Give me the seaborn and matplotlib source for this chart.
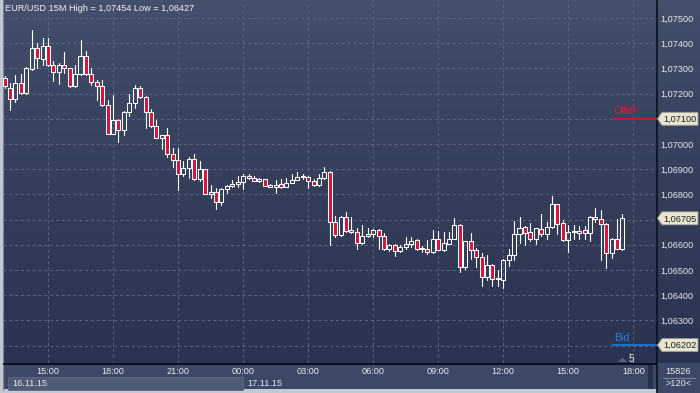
import numpy as np
import pandas as pd
import matplotlib
matplotlib.use("Agg")
import matplotlib.pyplot as plt
from matplotlib.colors import LinearSegmentedColormap
from matplotlib.patches import Rectangle, Polygon
from matplotlib.ticker import FixedLocator, FixedFormatter
import seaborn as sns

# ---------------- data (EUR/USD 15M candles, 16.11.15 13:00 -> 17.11.15 17:30) -------------
opens = [1.07262, 1.07222, 1.07179, 1.07242, 1.07203, 1.07299, 1.07380, 1.07337, 1.07389, 1.07312,
         1.07286, 1.07312, 1.07301, 1.07229, 1.07278, 1.07350, 1.07278, 1.07246, 1.07232, 1.07154,
         1.07041, 1.07097, 1.07054, 1.07128, 1.07163, 1.07222, 1.07187, 1.07128, 1.07071, 1.07025,
         1.07035, 1.06962, 1.06938, 1.06882, 1.06905, 1.06942, 1.06862, 1.06899, 1.06802, 1.06810,
         1.06769, 1.06820, 1.06835, 1.06842, 1.06850, 1.06875, 1.06866, 1.06855, 1.06862, 1.06838,
         1.06830, 1.06843, 1.06830, 1.06846, 1.06859, 1.06870, 1.06870, 1.06855, 1.06838, 1.06866,
         1.06890, 1.06692, 1.06638, 1.06711, 1.06657, 1.06652, 1.06609, 1.06633, 1.06644, 1.06657,
         1.06635, 1.06583, 1.06598, 1.06576, 1.06593, 1.06605, 1.06618, 1.06585, 1.06585, 1.06570,
         1.06625, 1.06580, 1.06605, 1.06625, 1.06680, 1.06511, 1.06614, 1.06580, 1.06553, 1.06473,
         1.06519, 1.06466, 1.06461, 1.06539, 1.06561, 1.06642, 1.06672, 1.06651, 1.06622, 1.06664,
         1.06644, 1.06672, 1.06760, 1.06685, 1.06619, 1.06651, 1.06648, 1.06658, 1.06648, 1.06712,
         1.06701, 1.06684, 1.06569, 1.06622, 1.06582]
highs = [1.07268, 1.07242, 1.07275, 1.07278, 1.07305, 1.07454, 1.07400, 1.07420, 1.07420, 1.07328,
         1.07321, 1.07367, 1.07303, 1.07314, 1.07413, 1.07370, 1.07301, 1.07255, 1.07255, 1.07176,
         1.07196, 1.07100, 1.07130, 1.07200, 1.07236, 1.07232, 1.07190, 1.07139, 1.07097, 1.07036,
         1.07062, 1.06985, 1.06985, 1.06932, 1.06949, 1.06962, 1.06934, 1.06901, 1.06839, 1.06824,
         1.06826, 1.06837, 1.06859, 1.06875, 1.06879, 1.06882, 1.06872, 1.06866, 1.06863, 1.06840,
         1.06859, 1.06863, 1.06866, 1.06879, 1.06888, 1.06879, 1.06872, 1.06862, 1.06879, 1.06909,
         1.06891, 1.06716, 1.06713, 1.06731, 1.06711, 1.06665, 1.06677, 1.06665, 1.06664, 1.06661,
         1.06646, 1.06602, 1.06602, 1.06598, 1.06629, 1.06629, 1.06622, 1.06596, 1.06618, 1.06657,
         1.06655, 1.06651, 1.06651, 1.06707, 1.06684, 1.06616, 1.06646, 1.06589, 1.06567, 1.06559,
         1.06523, 1.06501, 1.06543, 1.06585, 1.06694, 1.06711, 1.06674, 1.06685, 1.06668, 1.06721,
         1.06691, 1.06793, 1.06762, 1.06698, 1.06677, 1.06677, 1.06675, 1.06675, 1.06714, 1.06747,
         1.06737, 1.06686, 1.06627, 1.06701, 1.06721]
lows = [1.07222, 1.07134, 1.07166, 1.07200, 1.07200, 1.07295, 1.07301, 1.07314, 1.07308, 1.07249,
        1.07238, 1.07282, 1.07225, 1.07226, 1.07275, 1.07275, 1.07236, 1.07176, 1.07150, 1.07038,
        1.07038, 1.07008, 1.07034, 1.07110, 1.07141, 1.07184, 1.07064, 1.07068, 1.07022, 1.06979,
        1.06950, 1.06909, 1.06816, 1.06872, 1.06866, 1.06859, 1.06855, 1.06800, 1.06787, 1.06743,
        1.06756, 1.06806, 1.06830, 1.06830, 1.06822, 1.06862, 1.06853, 1.06849, 1.06833, 1.06828,
        1.06806, 1.06825, 1.06829, 1.06844, 1.06857, 1.06862, 1.06825, 1.06835, 1.06835, 1.06863,
        1.06599, 1.06631, 1.06635, 1.06651, 1.06648, 1.06585, 1.06602, 1.06629, 1.06629, 1.06585,
        1.06580, 1.06576, 1.06557, 1.06570, 1.06583, 1.06593, 1.06580, 1.06572, 1.06563, 1.06567,
        1.06579, 1.06576, 1.06602, 1.06622, 1.06494, 1.06504, 1.06543, 1.06511, 1.06435, 1.06460,
        1.06435, 1.06435, 1.06427, 1.06514, 1.06540, 1.06606, 1.06600, 1.06615, 1.06602, 1.06635,
        1.06622, 1.06668, 1.06642, 1.06615, 1.06572, 1.06622, 1.06622, 1.06625, 1.06615, 1.06691,
        1.06540, 1.06507, 1.06547, 1.06582, 1.06580]
closes = [1.07229, 1.07179, 1.07242, 1.07203, 1.07301, 1.07380, 1.07341, 1.07389, 1.07312, 1.07286,
          1.07312, 1.07301, 1.07229, 1.07278, 1.07350, 1.07278, 1.07246, 1.07232, 1.07154, 1.07041,
          1.07097, 1.07054, 1.07128, 1.07163, 1.07222, 1.07187, 1.07128, 1.07071, 1.07025, 1.07035,
          1.06960, 1.06936, 1.06882, 1.06905, 1.06942, 1.06862, 1.06899, 1.06802, 1.06810, 1.06771,
          1.06820, 1.06835, 1.06843, 1.06850, 1.06875, 1.06866, 1.06855, 1.06863, 1.06835, 1.06830,
          1.06839, 1.06830, 1.06846, 1.06859, 1.06870, 1.06871, 1.06854, 1.06838, 1.06866, 1.06890,
          1.06692, 1.06638, 1.06711, 1.06655, 1.06652, 1.06609, 1.06633, 1.06644, 1.06657, 1.06635,
          1.06583, 1.06598, 1.06576, 1.06593, 1.06605, 1.06616, 1.06585, 1.06586, 1.06570, 1.06625,
          1.06580, 1.06606, 1.06625, 1.06680, 1.06511, 1.06614, 1.06580, 1.06553, 1.06474, 1.06519,
          1.06466, 1.06465, 1.06539, 1.06561, 1.06642, 1.06668, 1.06648, 1.06622, 1.06665, 1.06644,
          1.06672, 1.06760, 1.06684, 1.06619, 1.06651, 1.06652, 1.06655, 1.06648, 1.06712, 1.06701,
          1.06684, 1.06569, 1.06625, 1.06585, 1.06705]

time_tick_idx = [8, 20, 32, 44, 56, 68, 80, 92, 104, 116]
time_labels = ["15:00", "18:00", "21:00", "00:00", "03:00", "06:00", "09:00", "12:00", "15:00", "18:00"]
date_labels = ["16.11.15", "17.11.15"]
date_start_idx = [-1, 44]
price_ticks = [1.062, 1.063, 1.064, 1.065, 1.066, 1.067, 1.068, 1.069, 1.070, 1.071,
               1.072, 1.073, 1.074, 1.075]
hidden_tick_labels = [1.062, 1.067, 1.071]
title = "EUR/USD 15M High = 1,07454 Low = 1,06427"
offer_price = 1.07100
bid_price = 1.06202
last_price = 1.06705
bar_count = "15826"
zoom_label = ">120<"

# ---------------- style ----------------
sns.set_theme(style="dark")
plt.rcParams["font.family"] = ["Liberation Sans", "DejaVu Sans"]
FS = 6.6
TXT = "#e4e8f0"
RED = "#d81438"

W, H = 700, 393
fig = plt.figure(figsize=(7, 3.93), dpi=100)
fig.patch.set_facecolor("#c2c8d2")

# background axes in pixel coordinates
bg = fig.add_axes([0, 0, 1, 1])
bg.set_zorder(0)
bg.axis("off")
grad = np.linspace(0, 1, 256)[:, None]
cmap = LinearSegmentedColormap.from_list(
    "bg", [(0.0, "#45516c"), (0.13, "#3e4a66"), (0.5, "#353f5c"), (1.0, "#2a3451")])
bg.imshow(grad, cmap=cmap, extent=[3, 700, 363, 0], aspect="auto", interpolation="bilinear")
bg.add_patch(Rectangle((3, 363), 654, 26, fc="#3c4865", ec="none"))
bg.add_patch(Rectangle((657, 363), 43, 30, fc="#3c4865", ec="none"))
bg.add_patch(Rectangle((648, 364), 5, 25, fc="#2a3247", ec="none"))
bg.plot([2.5, 2.5], [0, 390], color="#7d8698", lw=0.8)
bg.plot([3, 657], [363.5, 363.5], color="#0b1020", lw=1.4, solid_capstyle="butt")
bg.plot([657, 657], [0, 393], color="#0b1020", lw=1.2, solid_capstyle="butt")
bg.set_xlim(0, W)
bg.set_ylim(H, 0)

# main price axes
ax = fig.add_axes([3 / W, 30 / H, 654 / W, 363 / H])
ax.set_zorder(2)
ax.patch.set_alpha(0)

o = np.array(opens); h = np.array(highs); l = np.array(lows); c = np.array(closes)
n = len(o)
idx = np.arange(n)
top = np.maximum(o, c)
bot = np.minimum(o, c)

rows = []
for i in range(n):
    rows += [(i, h[i], 2 * i), (i, top[i], 2 * i), (i, bot[i], 2 * i + 1), (i, l[i], 2 * i + 1)]
wick_df = pd.DataFrame(rows, columns=["x", "y", "uid"])
sns.lineplot(data=wick_df, x="x", y="y", units="uid", estimator=None, sort=False,
             color="white", lw=0.8, ax=ax, legend=False)

face = [RED if cc < oo else "none" for oo, cc in zip(o, c)]
ax.bar(idx, np.maximum(top - bot, 0.00002), bottom=bot, width=0.74, color=face,
       edgecolor="white", linewidth=0.75, zorder=3)

xmin, xmax = -0.30, 120.37
ax.set_xlim(xmin, xmax)
ax.set_ylim(1.061310, 1.075714)

# offer / bid lines
ax.plot([112.2, xmax], [offer_price, offer_price], color="#d0142c", lw=1.4, solid_capstyle="butt", zorder=4)
ax.plot([112.0, xmax], [bid_price, bid_price], color="#1b72cc", lw=1.4, solid_capstyle="butt", zorder=4)
ax.text(112.4, offer_price + 0.00010, "Offer", color="#e01a30", fontsize=7.6, va="bottom", ha="left")
ax.text(112.4, bid_price + 0.00010, "Bid", color="#2b82dc", fontsize=7.6, va="bottom", ha="left")

# axes / ticks
ax.set_xlabel(""); ax.set_ylabel("")
for s in ax.spines.values():
    s.set_visible(False)
ax.xaxis.set_major_locator(FixedLocator(time_tick_idx))
ax.xaxis.set_major_formatter(FixedFormatter(time_labels))
ax.yaxis.set_major_locator(FixedLocator(price_ticks))
ylabels = ["" if p in hidden_tick_labels else f"{p:.5f}".replace(".", ",") for p in price_ticks]
ax.yaxis.set_major_formatter(FixedFormatter(ylabels))
ax.yaxis.tick_right()
ax.tick_params(axis="y", length=0, pad=2.6, labelsize=FS, labelcolor=TXT)
ax.tick_params(axis="x", length=0, pad=2.6, labelsize=FS, labelcolor=TXT)
ax.grid(True, color="#5a6784", lw=0.7, ls=(0, (3, 3)))

# overlay in pixel coordinates
ov = fig.add_axes([0, 0, 1, 1])
ov.set_zorder(5)
ov.axis("off")
ov.set_xlim(0, W)
ov.set_ylim(H, 0)
fig.canvas.draw()


def ypix(p):
    return H - ax.transData.transform((0, p))[1]


def xpix(i):
    return ax.transData.transform((i, 0))[0]


for p in [offer_price, last_price, bid_price]:
    y = ypix(p)
    poly = Polygon([(657.5, y), (662, y - 6.5), (698, y - 6.5), (698, y + 6.5), (662, y + 6.5)],
                   closed=True, fc="#e8e4cf", ec="#9a9a90", lw=0.6)
    ov.add_patch(poly)
    ov.text(679.5, y + 0.5, f"{p:.5f}".replace(".", ","), color="#1e1e1e", fontsize=FS,
            ha="center", va="center")

ov.text(5, 8.5, title, color="#f2f2f2", fontsize=FS, ha="left", va="center")

# date bar
x00 = xpix(date_start_idx[1])
ov.add_patch(Rectangle((8, 377), x00 - 8, 12.5, fc="#4f5a74", ec="#5e6984", lw=0.6))
ov.text(12, 383.5, date_labels[0], color=TXT, fontsize=FS, ha="left", va="center")
ov.text(x00 + 4, 383.5, date_labels[1], color=TXT, fontsize=FS, ha="left", va="center")

# bottom right info
ov.text(678.5, 371, bar_count, color=TXT, fontsize=FS, ha="center", va="center")
ov.plot([663, 695], [377.5, 377.5], color="#7c86a0", lw=0.7)
ov.text(678.5, 383.5, zoom_label, color=TXT, fontsize=FS, ha="center", va="center")

# "5" marker
ov.add_patch(Polygon([(618, 362), (622.5, 357.5), (627, 362)], closed=True, fc="#56627e", ec="none"))
ov.text(631, 358.5, "5", color="#f0f0f0", fontsize=FS + 0.6, ha="center", va="center")

fig.savefig("out.png", dpi=100, facecolor=fig.get_facecolor())
